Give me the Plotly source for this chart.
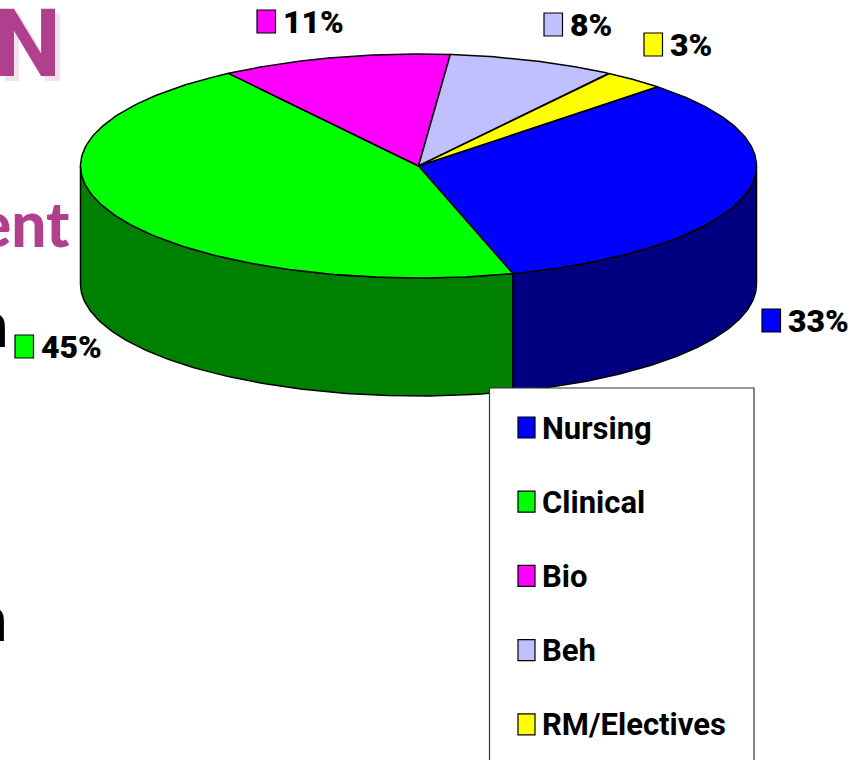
import numpy as np
import plotly.graph_objects as go

categories = ["Nursing", "Clinical", "Bio", "Beh", "RM/Electives"]
values = [33, 45, 11, 8, 3]
tick_labels = ["33%", "45%", "11%", "8%", "3%"]
top_colors = ["#0000FF", "#00FF00", "#FF00FF", "#C0C0FF", "#FFFF00"]
side_colors = ["#000080", "#008000", "#800080", "#6060A0", "#808000"]

# Layout constants, in page pixels
CX, CY, RX, RY, DEPTH = 418.5, 166, 338, 112, 118
START_ANGLE = 45
LABEL_SWATCH = [(762, 309), (15, 335), (257, 10), (544, 13), (644, 33)]
LEGEND_BOX = (489.5, 388, 754, 790)
LEGEND_X, LEGEND_Y0, LEGEND_STEP = 518, 417, 74.2
FONT = "Roboto"


def ell(theta_deg, drop=0):
    t = np.radians(theta_deg)
    return CX + RX * np.sin(t), CY - RY * np.cos(t) + drop


fig = go.Figure()
edges = START_ANGLE + np.concatenate([[0], np.cumsum(values)]) * 3.6

# walls: only the arc on the near half of the disc is visible
for i in range(len(values)):
    for lo, hi in [(90, 270), (450, 630)]:
        a, b = max(edges[i], lo), min(edges[i + 1], hi)
        if b <= a:
            continue
        th = np.linspace(a, b, 120)
        xt, yt = ell(th)
        xb, yb = ell(th[::-1], DEPTH)
        fig.add_trace(go.Scatter(
            x=np.r_[xt, xb, xt[0]], y=np.r_[yt, yb, yt[0]], mode="lines", fill="toself",
            fillcolor=side_colors[i], line=dict(color="black", width=1.5), hoverinfo="skip"))

# top slices
for i in range(len(values)):
    th = np.linspace(edges[i], edges[i + 1], 160)
    xt, yt = ell(th)
    fig.add_trace(go.Scatter(
        x=np.r_[CX, xt, CX], y=np.r_[CY, yt, CY], mode="lines", fill="toself", name=categories[i],
        fillcolor=top_colors[i], line=dict(color="black", width=1.5), hoverinfo="skip"))

shapes = [dict(type="rect", x0=LEGEND_BOX[0], y0=LEGEND_BOX[1], x1=LEGEND_BOX[2], y1=LEGEND_BOX[3],
               fillcolor="white", line=dict(color="#333333", width=1.2), layer="above")]
ann = []


def text(x, y, s, size, color="black", family=FONT, anchor="left", shadow=None, weight="bold"):
    f = dict(family=family, size=size, color=color, weight=weight)
    if shadow:
        f["shadow"] = shadow
    ann.append(dict(x=x, y=y, xref="x", yref="y", text=s, showarrow=False, xanchor=anchor,
                    yanchor="middle", font=f, borderpad=0, borderwidth=0))


for i, (sx, sy) in enumerate(LABEL_SWATCH):
    shapes.append(dict(type="rect", x0=sx, y0=sy, x1=sx + 18.5, y1=sy + 23, fillcolor=top_colors[i],
                       line=dict(color="black", width=1.2), layer="above"))
    text(sx + 26, sy + 12, tick_labels[i], 32, weight=900)

for i, c in enumerate(categories):
    y = LEGEND_Y0 + i * LEGEND_STEP
    shapes.append(dict(type="rect", x0=LEGEND_X, y0=y, x1=LEGEND_X + 17, y1=y + 21, fillcolor=top_colors[i],
                       line=dict(color="black", width=1.2), layer="above"))
    text(LEGEND_X + 24, y + 11, c, 31)

# clipped slide text behind the chart
text(61, 43, "N", 95, color="#B03F8E", anchor="right", shadow="5px 5px 1px #F1E1EC")
text(69.5, 223, "ent", 62, color="#B03F8E", family="Lato", anchor="right", weight=900)
text(7.5, 323, "n", 62, family="Lato", anchor="right", weight=900)
text(6.5, 617, "n", 62, family="Lato", anchor="right", weight=900)

fig.update_layout(
    width=850, height=760, margin=dict(l=0, r=0, t=0, b=0), showlegend=False,
    paper_bgcolor="white", plot_bgcolor="white", shapes=shapes, annotations=ann,
    xaxis=dict(range=[0, 850], visible=False, fixedrange=True),
    yaxis=dict(range=[760, 0], visible=False, fixedrange=True),
)
fig.write_html("out.html", config={"displayModeBar": False},
               post_script="document.body.style.margin='0';document.body.style.overflow='hidden';")
